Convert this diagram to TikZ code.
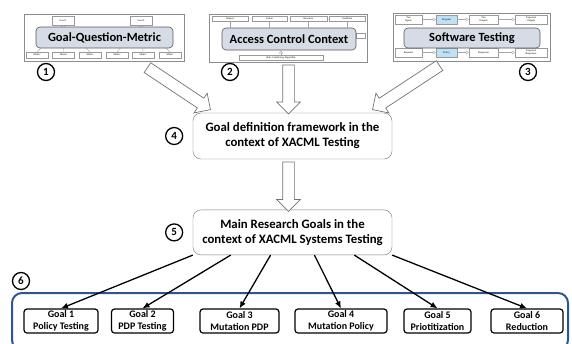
\documentclass[tikz,border=0pt]{standalone}
\usepackage{fontspec}
\setmainfont{Carlito}
\newfontfamily\thumbfont{Liberation Serif}
\usetikzlibrary{positioning,calc,arrows.meta,shapes.arrows}
\definecolor{titlefill}{RGB}{214,220,229}
\definecolor{progfill}{RGB}{190,225,245}
\definecolor{groupblue}{RGB}{47,84,150}
\tikzset{
    thumbframe/.style = {draw=black!45, rectangle, line width=0.8pt, inner sep=0pt},
    thumbtitle/.style = {draw=black!65, fill=titlefill, rectangle, rounded corners=4pt,
        line width=0.6pt, inner sep=0pt, font=\bfseries\fontsize{12.5}{12.5}\selectfont},
    minibox/.style = {draw=black!40, fill=white, rectangle, inner sep=0pt, align=center,
        font=\thumbfont\fontsize{2.6}{3}\selectfont},
    thumbline/.style = {draw=black!35, line width=0.4pt},
    numcircle/.style = {draw, circle, line width=1.3pt, minimum size=17pt, inner sep=0pt,
        font=\bfseries\fontsize{11}{11}\selectfont},
    bigblock/.style = {draw=black!55, rectangle, rounded corners=8pt,
        minimum width=199pt, minimum height=46pt, align=center,
        font=\bfseries\fontsize{12.8}{15}\selectfont},
    goalbox/.style = {draw, rectangle, rounded corners=3pt, line width=1.2pt,
        minimum height=24pt, inner sep=0pt, align=center,
        font=\bfseries\fontsize{10}{11.5}\selectfont},
    groupbox/.style = {draw=groupblue, rectangle, rounded corners=10pt, line width=2pt},
    hollowarrow/.style = {draw=black!55, fill=white, single arrow, single arrow head extend=6pt,
        inner xsep=0pt, inner ysep=5.5pt, line width=0.7pt},
    goalarrow/.style = {draw, line width=1.3pt, -{Latex[length=7pt,width=6pt]}}
}
% hollow block arrow between two named points
\newcommand{\hollowto}[3]{%
  \path let \p1=(#2), \p2=(#3), \n1={atan2(\y2-\y1,\x2-\x1)}, \n2={veclen(\x2-\x1,\y2-\y1)} in
    node[hollowarrow, minimum height=\n2, rotate=\n1] (#1) at ($(#2)!.5!(#3)$) {};}

\begin{document}
\begin{tikzpicture}[x=1pt, y=-1pt]
    \useasboundingbox (0,0) rectangle (572,343);

    % thumbnail 1: GQM
    \node [thumbframe, minimum width=160pt, minimum height=47pt] (gqm) at (104.5,37.5) {};
    \node [minibox, minimum width=22pt, minimum height=9pt] (gqmg1) at (63,20.5) {Goal 1};
    \node [minibox, minimum width=22pt, minimum height=9pt] (gqmg2) at (141,20.5) {Goal 2};
    \foreach \mx [count=\i] in {37,63.5,90,117,143,170}
        \node [minibox, minimum width=22pt, minimum height=6pt] (gqmm\i) at (\mx,55) {Metric};
    \foreach \i in {1,2,3}
        \draw [thumbline] (gqmg1.south) -- (gqmm\i.north);
    \foreach \i in {4,5,6}
        \draw [thumbline] (gqmg2.south) -- (gqmm\i.north);
    \node [thumbtitle, minimum width=137pt, minimum height=21pt] (gqmt) at (104.5,37.5) {Goal-Question-Metric};

    % thumbnail 2: access control
    \node [thumbframe, minimum width=158pt, minimum height=48pt] (acc) at (288,38) {};
    \foreach \lbl/\mx/\mw [count=\i] in {Subject/230/36, Action/269.5/35, Resource/308.5/37, Condition/347/36}
        \node [minibox, minimum width=\mw pt, minimum height=5pt] (acc\i) at (\mx,19) {\lbl};
    \node [minibox, minimum width=84pt, minimum height=5pt] (accrule) at (281,58) {Rule Combining Algorithm};
    \node [minibox, minimum width=9pt, minimum height=5pt] (accside) at (360.5,35.5) {};
    \node [thumbtitle, minimum width=134pt, minimum height=22pt] (acct) at (289,39) {Access Control Context};
    \foreach \i in {1,...,4}
        \draw [thumbline] (acc\i.south) -- (acc\i.south |- acct.north);
    \draw [thumbline, -{Triangle[open,length=3pt,width=4pt]}] (accrule.north) -- (accrule.north |- acct.south);

    % thumbnail 3: software testing
    \node [thumbframe, minimum width=157pt, minimum height=48pt] (swt) at (471.5,37) {};
    \foreach \lbl/\mx/\mw/\cl [count=\i] in {Test\\Inputs/408.5/27/white, Program/446.5/21/progfill,
            Test\\Outputs/483.5/29/white, Expected\\Outputs/531/32/white}
        \node [minibox, fill=\cl, minimum width=\mw pt, minimum height=9pt] (swtt\i) at (\mx,19.5) {\lbl};
    \foreach \lbl/\mx/\mw/\cl [count=\i] in {Requests/408.5/27/white, Policy/446.5/21/progfill,
            Responses/483.5/29/white, Expected\\Responses/531/32/white}
        \node [minibox, fill=\cl, minimum width=\mw pt, minimum height=9pt] (swtb\i) at (\mx,52.5) {\lbl};
    \foreach \a/\b in {1/2,2/3,3/4} {
        \draw [thumbline, -{Triangle[open,length=3pt,width=4pt]}] (swtt\a) -- (swtt\b);
        \draw [thumbline, -{Triangle[open,length=3pt,width=4pt]}] (swtb\a) -- (swtb\b);
    }
    \node [thumbtitle, minimum width=136pt, minimum height=20pt] (swtt) at (472,38) {Software Testing};

    \node [numcircle] (n1) at (46,72) {1};
    \node [numcircle] (n2) at (230,72) {2};
    \node [numcircle] (n3) at (528,72) {3};

    % framework and research goals
    \node [bigblock] (gdf) at (292.5,136) {Goal definition framework in the\\context of XACML Testing};
    \node [bigblock, below=50.5pt of gdf, minimum height=45pt] (rgoals) {Main Research Goals in the\\context of XACML Systems Testing};
    \node [numcircle, left=9.5pt of gdf] (n4) {4};
    \node [numcircle, left=9.5pt of rgoals] (n5) {5};

    \coordinate (gqmout) at (145,66);
    \coordinate (gqmin) at (208,108);
    \coordinate (accout) at (288.5,62);
    \coordinate (accin) at (288.5,111);
    \coordinate (swtout) at (442,64);
    \coordinate (swtin) at (375,108);
    \coordinate (gdfout) at (288.5,159);
    \coordinate (gdfin) at (288.5,208.5);
    \hollowto{a1}{gqmout}{gqmin}
    \hollowto{a2}{accout}{accin}
    \hollowto{a3}{swtout}{swtin}
    \hollowto{a4}{gdfout}{gdfin}

    % goals group
    \node [groupbox, minimum width=556pt, minimum height=57pt] (grp) at (290,321.5) {};
    \node [numcircle] (n6) at (21,281) {6};
    \node [goalbox, minimum width=74pt] (g1) at (61,321) {Goal 1\\Policy Testing};
    \node [goalbox, minimum width=62pt] (g2) at (142.5,321) {Goal 2\\PDP Testing};
    \node [goalbox, minimum width=79pt] (g3) at (239.5,321) {Goal 3\\Mutation PDP};
    \node [goalbox, minimum width=92pt] (g4) at (341,321) {Goal 4\\Mutation Policy};
    \node [goalbox, minimum width=67pt] (g5) at (437.5,321) {Goal 5\\Priotitization};
    \node [goalbox, minimum width=72pt] (g6) at (527,321) {Goal 6\\Reduction};
    \foreach \g/\f in {g1/0, g2/.19, g3/.39, g4/.61, g5/.81, g6/1}
        \draw [goalarrow] ($(rgoals.south west)!\f!(rgoals.south east)$) -- (\g.north);
\end{tikzpicture}
\end{document}
